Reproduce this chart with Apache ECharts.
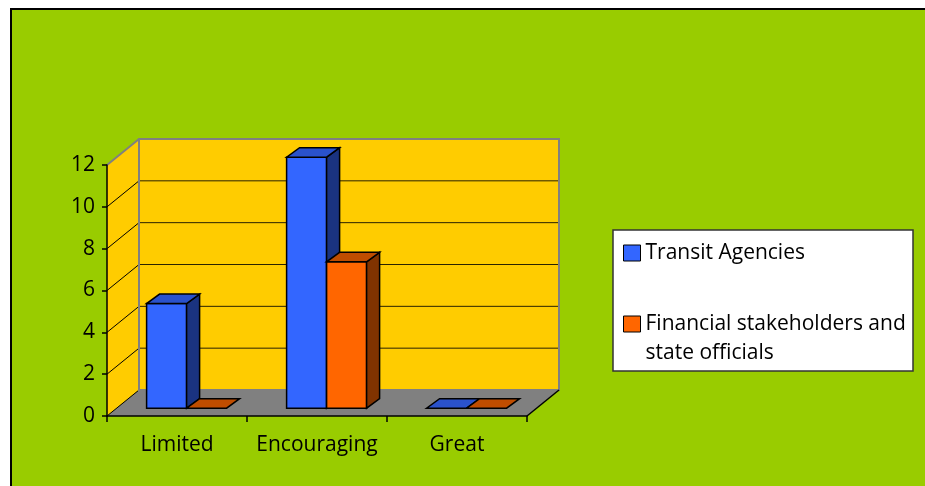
<!DOCTYPE html>
<html><head><meta charset="utf-8">
<script src="https://cdn.jsdelivr.net/npm/echarts@6/dist/echarts.min.js"></script>
<style>html,body{margin:0;padding:0;background:#fff;} #c{width:925px;height:486px;}</style>
</head><body><div id="c"></div>
<script>
const categories = ['Limited', 'Encouraging', 'Great'];
const seriesNames = ['Transit Agencies', 'Financial stakeholders and state officials'];
const legendLabels = ['Transit Agencies', '\nFinancial stakeholders and\nstate officials'];
const transitAgencies = [5, 12, 0];
const financialStakeholders = [0, 7, 0];
const yMin = 0, yMax = 12, yStep = 2;

const FONT = 'Open Sans';
const FS = 21;
const WALL = { dx: 32, dy: -26 };
const SHIFT = 0.3;
const BAR = { dx: 13, dy: -9.5 };
const BAR_FRAC = 40 / 140;
const COLORS = [
  { front: '#3366FF', top: '#2A52CC', side: '#1A3380' },
  { front: '#FF6600', top: '#BF4D00', side: '#803300' }
];

function wallsRender(params, api) {
  const size = api.size([1, 0])[0];
  const left = api.coord([0, yMin])[0] - size / 2;
  const right = api.coord([categories.length - 1, yMin])[0] + size / 2;
  const y0 = api.coord([0, yMin])[1];
  const yT = api.coord([0, yMax])[1];
  const dx = WALL.dx, dy = WALL.dy;
  const ch = [];
  ch.push({ type: 'polygon', shape: { points: [[left, y0], [left, yT], [left + dx, yT + dy], [left + dx, y0 + dy]] }, style: { fill: '#FFCC00' } });
  ch.push({ type: 'rect', shape: { x: left + dx, y: yT + dy, width: right - left, height: y0 - yT }, style: { fill: '#FFCC00' } });
  ch.push({ type: 'polygon', shape: { points: [[left, y0], [right, y0], [right + dx, y0 + dy], [left + dx, y0 + dy]] }, style: { fill: '#808080' } });
  for (let v = yMin; v <= yMax; v += yStep) {
    const y = api.coord([0, v])[1];
    if (v > yMin && v < yMax) {
      ch.push({ type: 'line', shape: { x1: left + dx, y1: y + dy, x2: right + dx, y2: y + dy }, style: { stroke: '#2a2200', lineWidth: 1 } });
    }
    if (v < yMax) {
      ch.push({ type: 'line', shape: { x1: left, y1: y, x2: left + dx, y2: y + dy }, style: { stroke: '#000', lineWidth: 1 } });
    }
  }
  ch.push({ type: 'rect', shape: { x: left + dx, y: yT + dy, width: right - left, height: y0 - yT }, style: { fill: null, stroke: '#808080', lineWidth: 2 } });
  ch.push({ type: 'line', shape: { x1: left, y1: yT, x2: left + dx, y2: yT + dy }, style: { stroke: '#808080', lineWidth: 2 } });
  ch.push({ type: 'line', shape: { x1: right, y1: y0, x2: right + dx, y2: y0 + dy }, style: { stroke: '#000', lineWidth: 1.5 } });
  return { type: 'group', children: ch };
}

function makeBarRender(si) {
  const c = COLORS[si];
  return function (params, api) {
    const ci = api.value(0), v = api.value(1);
    const base = api.coord([ci, yMin]);
    const top = api.coord([ci, v]);
    const size = api.size([1, 0])[0];
    const bw = size * BAR_FRAC;
    const sx = WALL.dx * SHIFT, sy = WALL.dy * SHIFT;
    const x0 = base[0] - bw + si * bw + sx;
    const x1 = x0 + bw;
    const yb = base[1] + sy, yt = top[1] + sy;
    const st = { stroke: '#000', lineWidth: 1.5, lineJoin: 'miter' };
    const ch = [];
    if (yb - yt > 0.5) {
      ch.push({ type: 'rect', shape: { x: x0, y: yt, width: bw, height: yb - yt }, style: Object.assign({ fill: c.front }, st) });
      ch.push({ type: 'polygon', shape: { points: [[x1, yt], [x1, yb], [x1 + BAR.dx, yb + BAR.dy], [x1 + BAR.dx, yt + BAR.dy]] }, style: Object.assign({ fill: c.side }, st) });
    }
    ch.push({ type: 'polygon', shape: { points: [[x0, yt], [x1, yt], [x1 + BAR.dx, yt + BAR.dy], [x0 + BAR.dx, yt + BAR.dy]] }, style: Object.assign({ fill: c.top }, st) });
    return { type: 'group', children: ch };
  };
}

const chart = echarts.init(document.getElementById('c'), null, { renderer: 'canvas' });
chart.setOption({
  backgroundColor: '#fff',
  animation: false,
  textStyle: { fontFamily: FONT },
  graphic: [
    { type: 'rect', z: -10, silent: true, shape: { x: 11, y: 9, width: 925, height: 490 }, style: { fill: '#99CC00', stroke: '#000', lineWidth: 2 } },
    { type: 'rect', z: 0, silent: true, shape: { x: 613, y: 230, width: 300, height: 141 }, style: { fill: '#fff', stroke: '#333', lineWidth: 1.5 } }
  ],
  grid: { left: 107, top: 165, width: 420, height: 251, containLabel: false },
  xAxis: {
    type: 'category', data: categories, z: 5,
    axisLine: { lineStyle: { color: '#000', width: 1.5 } },
    axisTick: { show: true, length: 6, lineStyle: { color: '#000', width: 1.5 } },
    axisLabel: { interval: 0, fontFamily: FONT, fontSize: FS, color: '#000', margin: 19 },
    splitLine: { show: false }
  },
  yAxis: {
    type: 'value', min: yMin, max: yMax, interval: yStep, z: 5,
    axisLine: { show: true, lineStyle: { color: '#000', width: 1.5 } },
    axisTick: { show: true, length: 5, lineStyle: { color: '#000', width: 1.5 } },
    axisLabel: { fontFamily: FONT, fontSize: FS, color: '#000', margin: 12 },
    splitLine: { show: false }
  },
  legend: {
    orient: 'vertical', left: 623, top: 238.5, padding: 0,
    itemWidth: 17, itemHeight: 16, itemGap: 13, icon: 'rect',
    textStyle: { fontFamily: FONT, fontSize: FS, lineHeight: 29, color: '#000' },
    formatter: function (name) { return legendLabels[seriesNames.indexOf(name)]; },
    data: [
      { name: seriesNames[0], itemStyle: { color: COLORS[0].front, borderColor: '#000', borderWidth: 1 } },
      { name: seriesNames[1], itemStyle: { color: COLORS[1].front, borderColor: '#000', borderWidth: 1 } }
    ]
  },
  series: [
    { type: 'custom', name: '_walls', z: 1, silent: true, renderItem: wallsRender, data: [[0, 0]], encode: { x: 0, y: 1 } },
    { type: 'custom', name: seriesNames[0], z: 2, itemStyle: { color: COLORS[0].front }, renderItem: makeBarRender(0), data: transitAgencies.map((v, i) => [i, v]), encode: { x: 0, y: 1 } },
    { type: 'custom', name: seriesNames[1], z: 2, itemStyle: { color: COLORS[1].front }, renderItem: makeBarRender(1), data: financialStakeholders.map((v, i) => [i, v]), encode: { x: 0, y: 1 } }
  ]
});
</script></body></html>
